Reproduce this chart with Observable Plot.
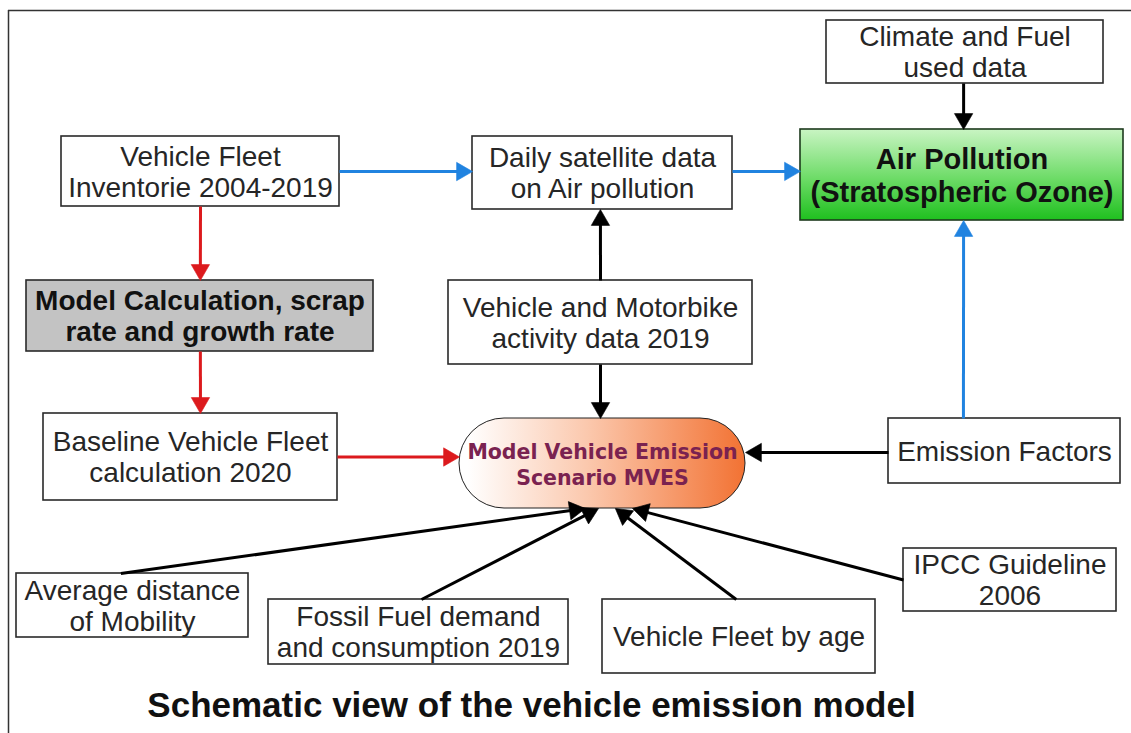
<!DOCTYPE html>
<html><head><meta charset="utf-8">
<script src="https://cdn.jsdelivr.net/npm/d3@7"></script>
<script src="https://cdn.jsdelivr.net/npm/@observablehq/plot@0.6"></script>
<style>body{margin:0;background:#fff}</style>
</head><body><div id="chart"></div>
<script>
// ---- Nodes of the schematic (diagram units = pixels of the 1131x733 canvas) ----
const nodeIds    = ["inv","sat","clim","air","calc","act","base","mves","ef","ipcc","avg","fossil","age"];
const nodeLabels = [
  "Vehicle Fleet\nInventorie 2004-2019",
  "Daily satellite data\non Air pollution",
  "Climate and Fuel\nused data",
  "Air Pollution\n(Stratospheric Ozone)",
  "Model Calculation, scrap\nrate and growth rate",
  "Vehicle and Motorbike\nactivity data 2019",
  "Baseline Vehicle Fleet\ncalculation 2020",
  "Model Vehicle Emission\nScenario MVES",
  "Emission Factors",
  "IPCC Guideline\n2006",
  "Average distance\nof Mobility",
  "Fossil Fuel demand\nand consumption 2019",
  "Vehicle Fleet by age"
];
const nodeKinds  = ["data","data","data","result","calc","data","data","model","data","data","data","data","data"];
const nodeLeft   = [61, 472, 826, 800, 26, 448, 43, 459, 888, 903, 16, 268, 602];
const nodeRight  = [339, 732, 1103, 1123, 373, 752, 337, 745, 1120, 1116, 248, 568, 875];
const nodeTop    = [136, 136, 20, 129, 280, 280, 413, 418, 418, 548, 573, 599, 599];
const nodeBottom = [206, 209, 83, 220, 351, 364, 500, 508, 483, 611, 637, 664, 673];

// ---- Edges ----
const edgeFrom     = ["inv","sat","clim","ef","act","act","inv","calc","base","ef","avg","fossil","age","ipcc"];
const edgeTo       = ["sat","air","air","air","sat","mves","calc","base","mves","mves","mves","mves","mves","mves"];
const edgeFromSide = ["right","right","bottom","top","top","bottom","bottom","bottom","right","left","top","top","top","left"];
const edgeFromPos  = [0.5, 0.48, 0.495, 0.323, 0.5, 0.5, 0.5, 0.501, 0.5, 0.523, 0.45, 0.51, 0.49, 0.5];
const edgeToSide   = ["left","left","top","bottom","bottom","top","top","top","left","right","bottom","bottom","bottom","bottom"];
const edgeToPos    = [0.48, 0.46, 0.505, 0.505, 0.492, 0.493, 0.501, 0.534, 0.428, 0.378, 0.44, 0.486, 0.545, 0.605];
const edgeKinds    = ["pollution","pollution","input","pollution","input","input","fleet","fleet","fleet","input","input","input","input","input"];

const kindDomain = ["fleet","pollution","input"];
const kindColors = ["#dc1a1d","#2083e0","#000000"];

const titleText = "Schematic view of the vehicle emission model";
const titlePos = {x: 531, y: 705};

// ---- Build tables ----
const nodes = nodeIds.map((id, i) => ({
  id, label: nodeLabels[i], kind: nodeKinds[i],
  x1: nodeLeft[i], x2: nodeRight[i], y1: nodeTop[i], y2: nodeBottom[i],
  cx: (nodeLeft[i] + nodeRight[i]) / 2, cy: (nodeTop[i] + nodeBottom[i]) / 2
}));
const byId = new Map(nodes.map(n => [n.id, n]));
function anchor(n, side, t) {
  if (side === "top") return [n.x1 + t * (n.x2 - n.x1), n.y1];
  if (side === "bottom") return [n.x1 + t * (n.x2 - n.x1), n.y2];
  if (side === "left") return [n.x1, n.y1 + t * (n.y2 - n.y1)];
  return [n.x2, n.y1 + t * (n.y2 - n.y1)];
}
const half = 5.3;               // triangle half-unit (d3.symbolTriangle)
const headLen = 3 * half;
const headR = Math.sqrt(half * half * 3 * Math.sqrt(3) / Math.PI);
const edges = edgeFrom.map((f, i) => {
  const [sx, sy] = anchor(byId.get(f), edgeFromSide[i], edgeFromPos[i]);
  const [tx, ty] = anchor(byId.get(edgeTo[i]), edgeToSide[i], edgeToPos[i]);
  const len = Math.hypot(tx - sx, ty - sy);
  const ux = (tx - sx) / len, uy = (ty - sy) / len;
  return {
    kind: edgeKinds[i], sx, sy,
    ex: tx - ux * headLen * 0.7, ey: ty - uy * headLen * 0.7,
    hx: tx - ux * 2 * half, hy: ty - uy * 2 * half,
    angle: Math.atan2(uy, ux) * 180 / Math.PI + 90
  };
});

const W = 1131, H = 733;
const plot = Plot.plot({
  width: W, height: H,
  marginTop: 0, marginRight: 0, marginBottom: 0, marginLeft: 0,
  x: {domain: [0, W], range: [0, W], axis: null},
  y: {domain: [0, H], range: [0, H], axis: null},
  color: {domain: kindDomain, range: kindColors},
  style: {fontFamily: "Liberation Sans, Arial, sans-serif", background: "#fff", overflow: "hidden"},
  marks: [
    // outer frame (cut at right and bottom)
    Plot.ruleX([8], {y1: 10, y2: H, stroke: "#333", strokeWidth: 1.5}),
    Plot.ruleY([10], {x1: 8, x2: W, stroke: "#333", strokeWidth: 1.5}),
    // boxes
    Plot.rect(nodes.filter(d => d.kind === "data"), {x1: "x1", x2: "x2", y1: "y1", y2: "y2", fill: "#fff", stroke: "#2a2a2a", strokeWidth: 1.6}),
    Plot.rect(nodes.filter(d => d.kind === "calc"), {x1: "x1", x2: "x2", y1: "y1", y2: "y2", fill: "#c3c3c3", stroke: "#2a2a2a", strokeWidth: 1.6}),
    Plot.rect(nodes.filter(d => d.kind === "result"), {x1: "x1", x2: "x2", y1: "y1", y2: "y2", fill: "url(#airGrad)", stroke: "#1d3a1d", strokeWidth: 1.6}),
    Plot.rect(nodes.filter(d => d.kind === "model"), {x1: "x1", x2: "x2", y1: "y1", y2: "y2", rx: 45, ry: 45, fill: "url(#mvesGrad)", stroke: "#222", strokeWidth: 1}),
    // connectors
    Plot.link(edges, {x1: "sx", y1: "sy", x2: "ex", y2: "ey", stroke: "kind", strokeWidth: 3}),
    Plot.dot(edges, {x: "hx", y: "hy", symbol: "triangle", r: headR, rotate: "angle", fill: "kind", stroke: "kind", strokeWidth: 0.6}),
    // labels
    Plot.text(nodes.filter(d => d.kind === "data"), {x: "cx", y: "cy", text: "label", fontSize: 28, lineHeight: 1.1, fill: "#262626", fontFamily: "Liberation Sans"}),
    Plot.text(nodes.filter(d => d.kind === "calc"), {x: "cx", y: "cy", text: "label", fontSize: 28, fontWeight: "bold", lineHeight: 1.1, fill: "#111", fontFamily: "Liberation Sans"}),
    Plot.text(nodes.filter(d => d.kind === "result"), {x: "cx", y: "cy", text: "label", fontSize: 29, fontWeight: "bold", lineHeight: 1.12, fill: "#111", fontFamily: "Liberation Sans"}),
    Plot.text(nodes.filter(d => d.kind === "model"), {x: "cx", y: "cy", text: "label", fontSize: 20.5, fontWeight: "bold", lineHeight: 1.3, fill: "#7a2250", fontFamily: "DejaVu Sans"}),
    // title
    Plot.text([titleText], {x: () => titlePos.x, y: () => titlePos.y, text: d => d, fontSize: 35, fontWeight: "bold", fill: "#111", fontFamily: "Liberation Sans"})
  ]
});

// gradients for the filled nodes
const svg = d3.select(plot);
const defs = svg.insert("defs", ":first-child");
const g1 = defs.append("linearGradient").attr("id", "airGrad").attr("x1", 0).attr("y1", 0).attr("x2", 0).attr("y2", 1);
g1.append("stop").attr("offset", "0%").attr("stop-color", "#c9f4c3");
g1.append("stop").attr("offset", "55%").attr("stop-color", "#6cdb66");
g1.append("stop").attr("offset", "100%").attr("stop-color", "#1fc01f");
const g2 = defs.append("linearGradient").attr("id", "mvesGrad").attr("x1", 0).attr("y1", 0).attr("x2", 1).attr("y2", 0);
g2.append("stop").attr("offset", "3%").attr("stop-color", "#ffffff");
g2.append("stop").attr("offset", "45%").attr("stop-color", "#fbc8ad");
g2.append("stop").attr("offset", "100%").attr("stop-color", "#f27233");

document.getElementById("chart").appendChild(plot);
</script>
</body></html>
